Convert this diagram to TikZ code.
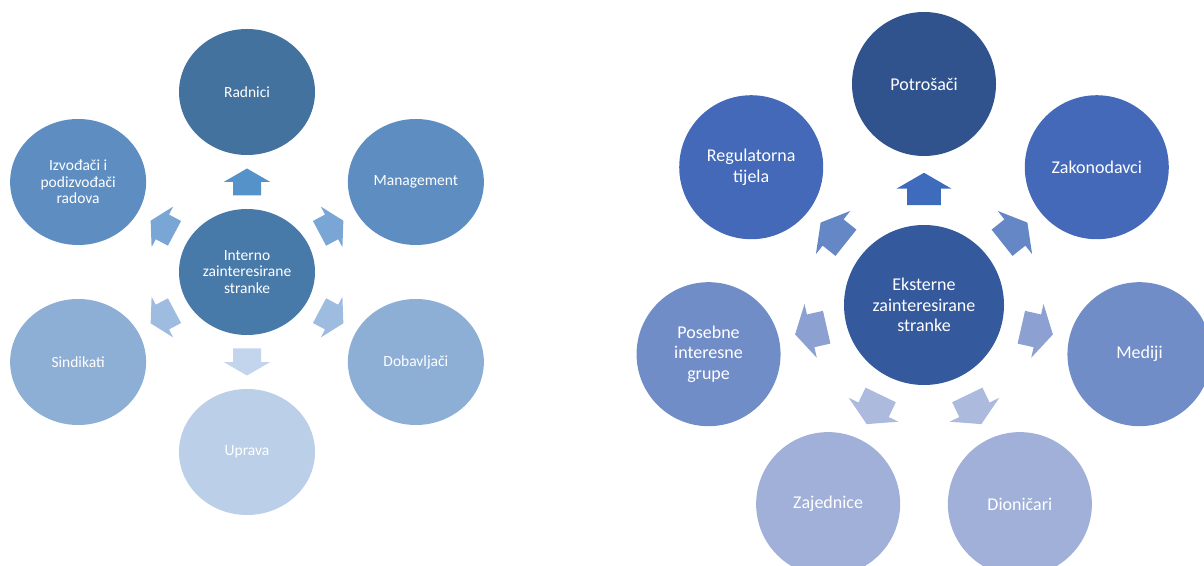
\documentclass[tikz,border=0pt]{standalone}
\usepackage{fontspec}
\setmainfont{Carlito}
\usetikzlibrary{calc,shapes.geometric}
% interne
\definecolor{inA}{HTML}{44729F}
\definecolor{inC}{HTML}{4779A9}
\definecolor{inB}{HTML}{5E8EC1}
\definecolor{inD}{HTML}{8EAFD5}
\definecolor{inE}{HTML}{BCCFE8}
\definecolor{inSA}{HTML}{5592CA}
\definecolor{inSB}{HTML}{79A6D5}
\definecolor{inSC}{HTML}{9EBCE0}
\definecolor{inSD}{HTML}{C2D5ED}
% eksterne
\definecolor{exA}{HTML}{30538E}
\definecolor{exC}{HTML}{34599C}
\definecolor{exB}{HTML}{4369B8}
\definecolor{exD}{HTML}{718DC8}
\definecolor{exE}{HTML}{A1B0D8}
\definecolor{exSA}{HTML}{3E6BBB}
\definecolor{exSB}{HTML}{6687C6}
\definecolor{exSC}{HTML}{8CA1D2}
\definecolor{exSD}{HTML}{ACBADE}
\tikzset{strelica/.pic={
  \fill (-13.5,-14) -- (0.2,-14) -- (0.2,-23) -- (13.5,0) -- (0.2,23) -- (0.2,14) -- (-13.5,14) -- cycle;
}}
\begin{document}
\begin{tikzpicture}[x=1pt,y=1pt,
  unut/.style={ellipse,minimum width=136pt,minimum height=126pt,inner sep=0pt,align=center,text=white,font=\fontsize{15.5}{16.5}\selectfont},
  vanj/.style={circle,minimum size=144pt,inner sep=0pt,align=center,text=white,font=\fontsize{18}{20.5}\selectfont}]
\useasboundingbox (0,0) rectangle (1204,565);
\clip (0,0) rectangle (1204,565);
\def\lx{247}
\def\ly{293}
\def\rx{924}
\def\ry{260}
\node[unut,fill=inC] (int) at (\lx,\ly) {Interno\\zainteresirane\\stranke};
\foreach \ime/\a/\boja/\tekst in {rad/90/inA/Radnici, man/30/inB/Management, dob/-30/inD/Dobavljači, upr/-90/inE/Uprava, sin/-150/inD/Sindikati, izv/150/inB/Izvođači i\\podizvođači\\radova}
  \node[unut,fill=\boja] (\ime) at ($(\lx,\ly)+(\a:195pt and 180pt)$) {\tekst};
\foreach \ime/\a/\boja in {rad/90/inSA, man/28/inSB, dob/-28/inSC, upr/-90/inSD, sin/-152/inSC, izv/152/inSB}
  \pic[fill=\boja,rotate=\a] (s\ime) at ($(int)!0.5!(\ime)$) {strelica};
\node[vanj,minimum size=160pt,fill=exC] (ext) at (\rx,\ry) {Eksterne\\zainteresirane\\stranke};
\foreach \ime/\a/\boja/\tekst in {pot/90/exA/Potrošači, zak/38.57/exB/Zakonodavci, med/-12.86/exD/Mediji, dio/-64.29/exE/Dioničari, zaj/-115.71/exE/Zajednice, pos/-167.14/exD/Posebne\\interesne\\grupe, reg/141.43/exB/Regulatorna\\tijela}
  \node[vanj,fill=\boja] (\ime) at ($(\rx,\ry)+(\a:221pt)$) {\tekst};
\foreach \ime/\a/\boja in {pot/90/exSA, zak/38.57/exSB, med/-12.86/exSC, dio/-64.29/exSD, zaj/-115.71/exSD, pos/-167.14/exSC, reg/141.43/exSB}
  \pic[fill=\boja,rotate=\a,scale=1.2] (s\ime) at ($(ext)!0.525!(\ime)$) {strelica};
\end{tikzpicture}
\end{document}
